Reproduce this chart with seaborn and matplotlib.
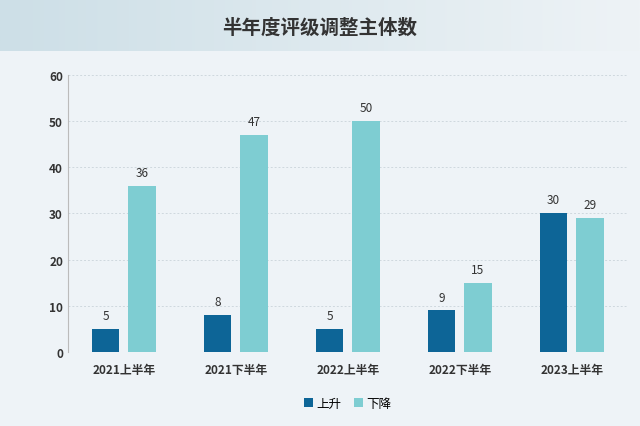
import matplotlib.pyplot as plt
import seaborn as sns
import numpy as np
import pandas as pd
from matplotlib.colors import LinearSegmentedColormap
from matplotlib import font_manager

periods = ["2021上半年", "2021下半年", "2022上半年", "2022下半年", "2023上半年"]
up = [5, 8, 5, 9, 30]
down = [36, 47, 50, 15, 29]
series_names = ["上升", "下降"]
yticks = [0, 10, 20, 30, 40, 50, 60]

names = {f.name for f in font_manager.fontManager.ttflist}
cjk = [n for n in ["Noto Sans CJK SC", "Noto Sans CJK JP", "Noto Sans CJK TC", "Noto Sans CJK KR"] if n in names]
plt.rcParams["font.family"] = cjk + ["DejaVu Sans"]
bg = "#eef3f7"

df = pd.DataFrame({"period": periods * 2,
                   "value": up + down,
                   "series": [series_names[0]] * 5 + [series_names[1]] * 5})

fig = plt.figure(figsize=(6.4, 4.27), dpi=100, facecolor=bg)
# title band with gradient
band = fig.add_axes([0, 0.878, 1, 0.122])
grad = np.linspace(0, 1, 256).reshape(1, -1)
cm = LinearSegmentedColormap.from_list("b", ["#cddfe7", "#eef3f6"])
band.imshow(grad, aspect="auto", cmap=cm, extent=[0, 1, 0, 1])
band.axis("off")
band.text(0.5, 0.45, "半年度评级调整主体数", ha="center", va="center",
          fontsize=14, fontweight="bold", color="#333333")

ax = fig.add_axes([0.106, 0.173, 0.875, 0.65])
ax.set_facecolor(bg)
sns.barplot(data=df, x="period", y="value", hue="series", ax=ax, saturation=1,
            palette=["#0d6597", "#7ecdd2"], width=0.65, gap=0.25)
ax.set_ylim(0, 60)
ax.set_yticks(yticks)
ax.yaxis.grid(True, linestyle=(0, (2, 2)), color="#cfd8de", linewidth=0.7)
ax.set_axisbelow(True)
for s in ["top", "right", "bottom"]:
    ax.spines[s].set_visible(False)
ax.spines["left"].set_color("#bbbbbb")
ax.tick_params(length=0, labelsize=8.5, colors="#333333")
ax.tick_params(axis="x", pad=8)
for lbl in ax.get_xticklabels() + ax.get_yticklabels():
    lbl.set_fontweight("bold")
ax.set_xlabel("")
ax.set_ylabel("")
for c in ax.containers:
    ax.bar_label(c, padding=5, fontsize=8.5, color="#333333")
ax.legend(loc="upper center", bbox_to_anchor=(0.5, -0.12), ncol=2, frameon=False,
          fontsize=9, handlelength=0.7, handleheight=0.7, columnspacing=1.0, handletextpad=0.3)
fig.savefig("out.png", dpi=100, facecolor=bg)
